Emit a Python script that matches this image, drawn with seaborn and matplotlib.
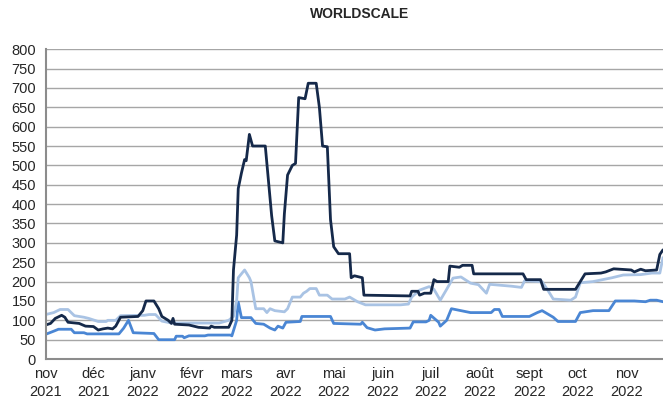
import matplotlib
matplotlib.use("Agg")
import matplotlib.pyplot as plt
import seaborn as sns
import pandas as pd

# serie foncee
dates_fonce = [
    "2021-11-01", "2021-11-04", "2021-11-07", "2021-11-11", "2021-11-13", "2021-11-15",
    "2021-11-22", "2021-11-26", "2021-12-01", "2021-12-04", "2021-12-07", "2021-12-10",
    "2021-12-13", "2021-12-15", "2021-12-18", "2021-12-29", "2022-01-01", "2022-01-03",
    "2022-01-08", "2022-01-11", "2022-01-13", "2022-01-17", "2022-01-19", "2022-01-20",
    "2022-01-21", "2022-01-30", "2022-02-05", "2022-02-12", "2022-02-13", "2022-02-15",
    "2022-02-24", "2022-02-26", "2022-02-27", "2022-03-01", "2022-03-02", "2022-03-04",
    "2022-03-06", "2022-03-07", "2022-03-09", "2022-03-11", "2022-03-19", "2022-03-23",
    "2022-03-25", "2022-03-30", "2022-03-31", "2022-04-02", "2022-04-05", "2022-04-07",
    "2022-04-09", "2022-04-13", "2022-04-15", "2022-04-20", "2022-04-22", "2022-04-24",
    "2022-04-27", "2022-04-29", "2022-05-01", "2022-05-04", "2022-05-11", "2022-05-12",
    "2022-05-14", "2022-05-19", "2022-05-20", "2022-06-18", "2022-06-19", "2022-06-23",
    "2022-06-24", "2022-06-27", "2022-07-01", "2022-07-03", "2022-07-05", "2022-07-12",
    "2022-07-13", "2022-07-19", "2022-07-21", "2022-07-27", "2022-07-28", "2022-08-28",
    "2022-08-30", "2022-09-08", "2022-09-10", "2022-09-30", "2022-10-03", "2022-10-06",
    "2022-10-16", "2022-10-19", "2022-10-24", "2022-11-04", "2022-11-06", "2022-11-10",
    "2022-11-13", "2022-11-20", "2022-11-22", "2022-11-24",
]
valeurs_fonce = [
    88, 92, 105, 113, 108, 95,
    92, 85, 84, 75, 78, 80,
    78, 85, 108, 110, 125, 150,
    150, 130, 110, 100, 92, 105,
    90, 88, 82, 80, 85, 82,
    82, 100, 230, 320, 440, 480,
    515, 512, 580, 550, 550, 370,
    305, 300, 375, 475, 500, 505,
    675, 672, 712, 712, 650, 550,
    548, 360, 290, 272, 272, 210,
    215, 210, 165, 163, 175, 175,
    165, 170, 170, 205, 200, 200,
    240, 237, 242, 242, 220, 220,
    205, 205, 180, 180, 200, 220,
    222, 225, 233, 230, 225, 232,
    228, 230, 270, 282,
]

# serie bleu clair
dates_clair = [
    "2021-11-01", "2021-11-06", "2021-11-10", "2021-11-15", "2021-11-19", "2021-11-25",
    "2021-11-28", "2021-12-04", "2021-12-09", "2021-12-10", "2021-12-15", "2021-12-18",
    "2022-01-02", "2022-01-05", "2022-01-09", "2022-01-13", "2022-01-19", "2022-02-18",
    "2022-02-24", "2022-02-27", "2022-03-01", "2022-03-02", "2022-03-06", "2022-03-09",
    "2022-03-10", "2022-03-13", "2022-03-18", "2022-03-20", "2022-03-22", "2022-03-25",
    "2022-03-31", "2022-04-02", "2022-04-05", "2022-04-10", "2022-04-12", "2022-04-14",
    "2022-04-16", "2022-04-20", "2022-04-22", "2022-04-27", "2022-04-30", "2022-05-08",
    "2022-05-11", "2022-05-16", "2022-05-21", "2022-06-12", "2022-06-17", "2022-06-19",
    "2022-06-24", "2022-06-30", "2022-07-03", "2022-07-07", "2022-07-11", "2022-07-15",
    "2022-07-20", "2022-07-26", "2022-07-31", "2022-08-05", "2022-08-07", "2022-08-21",
    "2022-08-27", "2022-08-29", "2022-09-09", "2022-09-13", "2022-09-16", "2022-09-27",
    "2022-09-30", "2022-10-03", "2022-10-11", "2022-10-17", "2022-10-23", "2022-10-30",
    "2022-11-10", "2022-11-17", "2022-11-22", "2022-11-24",
]
valeurs_clair = [
    115, 120, 128, 128, 112, 108,
    105, 97, 97, 100, 100, 112,
    113, 115, 115, 98, 93, 93,
    100, 110, 150, 210, 230, 210,
    200, 130, 130, 120, 130, 125,
    122, 130, 160, 160, 170, 175,
    182, 182, 165, 165, 155, 155,
    160, 148, 140, 140, 142, 160,
    178, 187, 180, 152, 180, 209,
    212, 196, 192, 170, 193, 188,
    185, 202, 200, 175, 155, 152,
    160, 197, 200, 205, 210, 217,
    218, 222, 222, 262,
]

# serie bleu moyen
dates_moyen = [
    "2021-11-01", "2021-11-06", "2021-11-09", "2021-11-17", "2021-11-19", "2021-11-25",
    "2021-11-27", "2021-12-17", "2021-12-20", "2021-12-23", "2021-12-26", "2022-01-08",
    "2022-01-11", "2022-01-21", "2022-01-22", "2022-01-26", "2022-01-27", "2022-01-30",
    "2022-02-09", "2022-02-11", "2022-02-25", "2022-02-26", "2022-03-01", "2022-03-02",
    "2022-03-04", "2022-03-10", "2022-03-13", "2022-03-18", "2022-03-22", "2022-03-25",
    "2022-03-27", "2022-03-30", "2022-04-01", "2022-04-10", "2022-04-11", "2022-04-29",
    "2022-05-01", "2022-05-18", "2022-05-19", "2022-05-22", "2022-05-27", "2022-06-02",
    "2022-06-18", "2022-06-20", "2022-06-28", "2022-06-30", "2022-07-01", "2022-07-06",
    "2022-07-07", "2022-07-11", "2022-07-14", "2022-07-20", "2022-07-26", "2022-08-08",
    "2022-08-10", "2022-08-13", "2022-08-15", "2022-09-01", "2022-09-06", "2022-09-09",
    "2022-09-16", "2022-09-19", "2022-09-30", "2022-10-03", "2022-10-11", "2022-10-21",
    "2022-10-25", "2022-11-06", "2022-11-13", "2022-11-16", "2022-11-20", "2022-11-24",
]
valeurs_moyen = [
    64, 72, 77, 77, 68, 68,
    65, 65, 80, 100, 68, 66,
    50, 50, 59, 59, 55, 60,
    60, 62, 62, 60, 100, 147,
    107, 107, 92, 90, 80, 75,
    85, 80, 95, 97, 110, 110,
    92, 90, 95, 81, 75, 78,
    80, 96, 96, 100, 113, 95,
    85, 100, 130, 125, 120, 120,
    128, 128, 110, 110, 120, 125,
    108, 97, 97, 120, 125, 125,
    150, 150, 148, 152, 152, 148,
]

mois_labels = [
    "nov\n2021", "déc\n2021", "janv\n2022", "févr\n2022", "mars\n2022", "avr\n2022",
    "mai\n2022", "juin\n2022", "juil\n2022", "août\n2022", "sept\n2022", "oct\n2022",
    "nov\n2022",
]

sns.set_style("white")
plt.rcParams['font.family'] = ['Liberation Sans', 'DejaVu Sans']

fig = plt.figure(figsize=(6.63, 4.03), dpi=100)
ax = fig.add_axes([0.069, 0.109, 0.931, 0.769])

series = [
    (dates_moyen, valeurs_moyen, "#4a86d4"),
    (dates_clair, valeurs_clair, "#a9c3e4"),
    (dates_fonce, valeurs_fonce, "#15294a"),
]
for dates, valeurs, couleur in series:
    df = pd.DataFrame({"date": pd.to_datetime(dates), "valeur": valeurs})
    sns.lineplot(data=df, x="date", y="valeur", color=couleur, linewidth=2, ax=ax)

ax.set_ylim(0, 800)
ax.set_yticks(range(0, 801, 50))
ax.set_xlim(pd.Timestamp("2021-11-01"), pd.Timestamp("2022-11-24"))
ax.set_xticks(pd.date_range("2021-11-01", "2022-11-01", freq="MS"))
ax.set_xticklabels(mois_labels, linespacing=1.35)
ax.set_xlabel("")
ax.set_ylabel("")

ax.grid(axis="y", color="#a6a6a6", linewidth=1)
ax.set_axisbelow(True)
ax.tick_params(axis="both", length=0, labelsize=10.5)
ax.tick_params(axis="x", pad=6)
ax.tick_params(axis="y", pad=7)
for side in ["top", "right"]:
    ax.spines[side].set_visible(False)
ax.spines["left"].set_color("#8c8c8c")
ax.spines["left"].set_linewidth(1.5)
ax.spines["bottom"].set_color("#8c8c8c")
ax.spines["bottom"].set_linewidth(1.5)

fig.text(0.543, 0.965, "WORLDSCALE", ha="center", va="center",
         fontsize=10, fontweight="bold")

fig.savefig("out.png", dpi=100)
plt.close(fig)
